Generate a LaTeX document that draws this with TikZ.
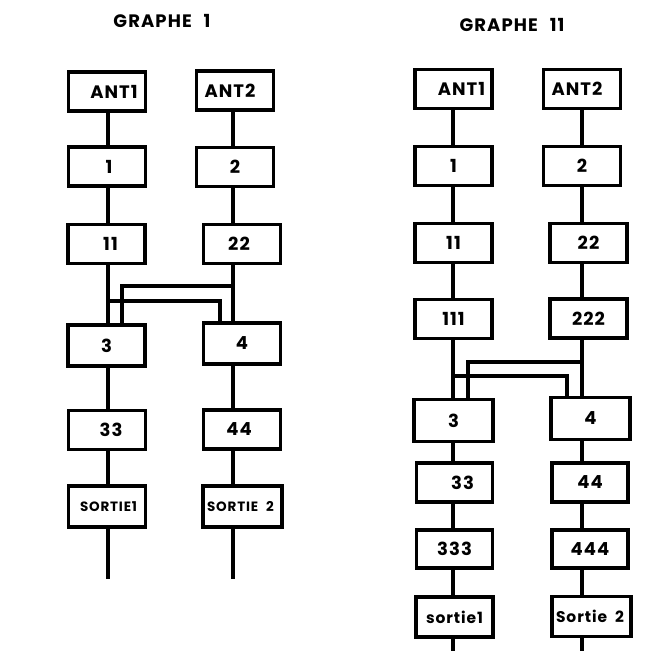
\documentclass[tikz,border=0pt]{standalone}
\usepackage{fontspec}
\setmainfont{Poppins}[BoldFont={* Bold}]
\newfontfamily\wideff{Poppins}[BoldFont={* Bold},LetterSpace=6]
\begin{document}
\begin{tikzpicture}[x=1pt,y=-1pt,
  box/.style={draw,line width=3.2pt,minimum width=77pt,minimum height=39pt,inner sep=0pt,font=\wideff\bfseries\fontsize{18}{18}\selectfont},
  sbox/.style={box,font=\wideff\bfseries\fontsize{13.5}{13.5}\selectfont},
  wire/.style={line width=3.2pt},
  ttl/.style={font=\wideff\bfseries\fontsize{18}{18}\selectfont}]
\useasboundingbox (0,0) rectangle (645,651);
% ---------- GRAPHE 1 ----------
\node[ttl] (t1) at (162,21) {GRAPHE\hspace{12pt}1};
\coordinate (La) at (108,0);
\coordinate (Ra) at (233,0);
\node[box] (a1) at (107,91.5) {\hspace*{14pt}ANT1};
\node[box] (a2) at (235,90.5) {ANT2\hspace*{10pt}};
\node[box] (b1) at (107,166.5) {\hspace*{4pt}1};
\node[box] (b2) at (235,167) {2};
\node[box] (c1) at (106.5,244) {\hspace*{8pt}11};
\node[box] (c2) at (242,244) {22\hspace*{6pt}};
\node[box,minimum height=41pt] (d1) at (106.5,345.5) {3};
\node[box,minimum height=41pt] (d2) at (242,343.5) {4};
\node[box] (e1) at (107,430) {\hspace*{8pt}33};
\node[box] (e2) at (242,429.5) {44\hspace*{6pt}};
\node[sbox,minimum height=41pt] (f1) at (107,506.5) {\hspace*{3pt}SORTIE1};
\node[sbox,minimum height=41pt,minimum width=79pt] (f2) at (242.5,506.5) {SORTIE\hspace{8pt}2\hspace*{4pt}};
\coordinate (g1) at (108,579);
\coordinate (g2) at (233,579);
\foreach \u/\v in {a1/b1,b1/c1,d1/e1,e1/f1}{
  \draw[wire] (\u.south -| La) -- (\v.north -| La);}
\draw[wire] (f1.south -| La) -- (g1);
\foreach \u/\v in {a2/b2,b2/c2,d2/e2,e2/f2}{
  \draw[wire] (\u.south -| Ra) -- (\v.north -| Ra);}
\draw[wire] (f2.south -| Ra) -- (g2);
% crossing
\draw[wire] (c1.south -| La) -- (d1.north -| La);
\draw[wire] (c2.south -| Ra) -- (d2.north -| Ra);
\draw[wire] (108,301) -- (220,301) -- (220,0 |- d2.north);
\draw[wire] (233,286) -- (122,286) -- (122,0 |- d1.north);
% ---------- GRAPHE 11 ----------
\node[ttl] (t2) at (512,25) {GRAPHE\hspace{12pt}11};
\coordinate (Lb) at (453,0);
\coordinate (Rb) at (582,0);
\node[box] (A1) at (453.5,89) {\hspace*{16pt}ANT1};
\node[box] (A2) at (582,89) {ANT2\hspace*{10pt}};
\node[box] (B1) at (453.5,166) {1};
\node[box] (B2) at (582,166) {2};
\node[box] (C1) at (453.5,243) {11};
\node[box] (C2) at (588.5,243) {22};
\node[box] (D1) at (453.5,319) {111};
\node[box] (D2) at (588.5,318.5) {222};
\node[box,minimum height=42pt,minimum width=79pt] (E1) at (453.5,420.5) {3};
\node[box,minimum height=42pt,minimum width=79pt] (E2) at (590.5,418.5) {4};
\node[box,minimum width=76pt] (F1) at (454.5,482.5) {\hspace*{16pt}33};
\node[box,minimum width=76pt] (F2) at (590,482.5) {44};
\node[box,minimum width=76pt,minimum height=38pt] (G1) at (454.5,549) {333};
\node[box,minimum width=76pt,minimum height=38pt] (G2) at (590,549) {444};
\node[sbox,font=\wideff\bfseries\fontsize{15.5}{15.5}\selectfont,minimum height=40pt] (H1) at (454.5,617) {sortie1};
\node[sbox,font=\wideff\bfseries\fontsize{15.5}{15.5}\selectfont,minimum height=40pt,minimum width=79pt] (H2) at (591.5,616.5) {Sortie\hspace{8pt}2\hspace*{3pt}};
\coordinate (I1) at (453,651);
\coordinate (I2) at (582,651);
\foreach \u/\v in {A1/B1,B1/C1,C1/D1,E1/F1,F1/G1,G1/H1}{
  \draw[wire] (\u.south -| Lb) -- (\v.north -| Lb);}
\draw[wire] (H1.south -| Lb) -- (I1);
\foreach \u/\v in {A2/B2,B2/C2,C2/D2,E2/F2,F2/G2,G2/H2}{
  \draw[wire] (\u.south -| Rb) -- (\v.north -| Rb);}
\draw[wire] (H2.south -| Rb) -- (I2);
% crossing
\draw[wire] (D1.south -| Lb) -- (E1.north -| Lb);
\draw[wire] (D2.south -| Rb) -- (E2.north -| Rb);
\draw[wire] (453,376) -- (567,376) -- (567,0 |- E2.north);
\draw[wire] (582,362) -- (468,362) -- (468,0 |- E1.north);
\end{tikzpicture}
\end{document}
